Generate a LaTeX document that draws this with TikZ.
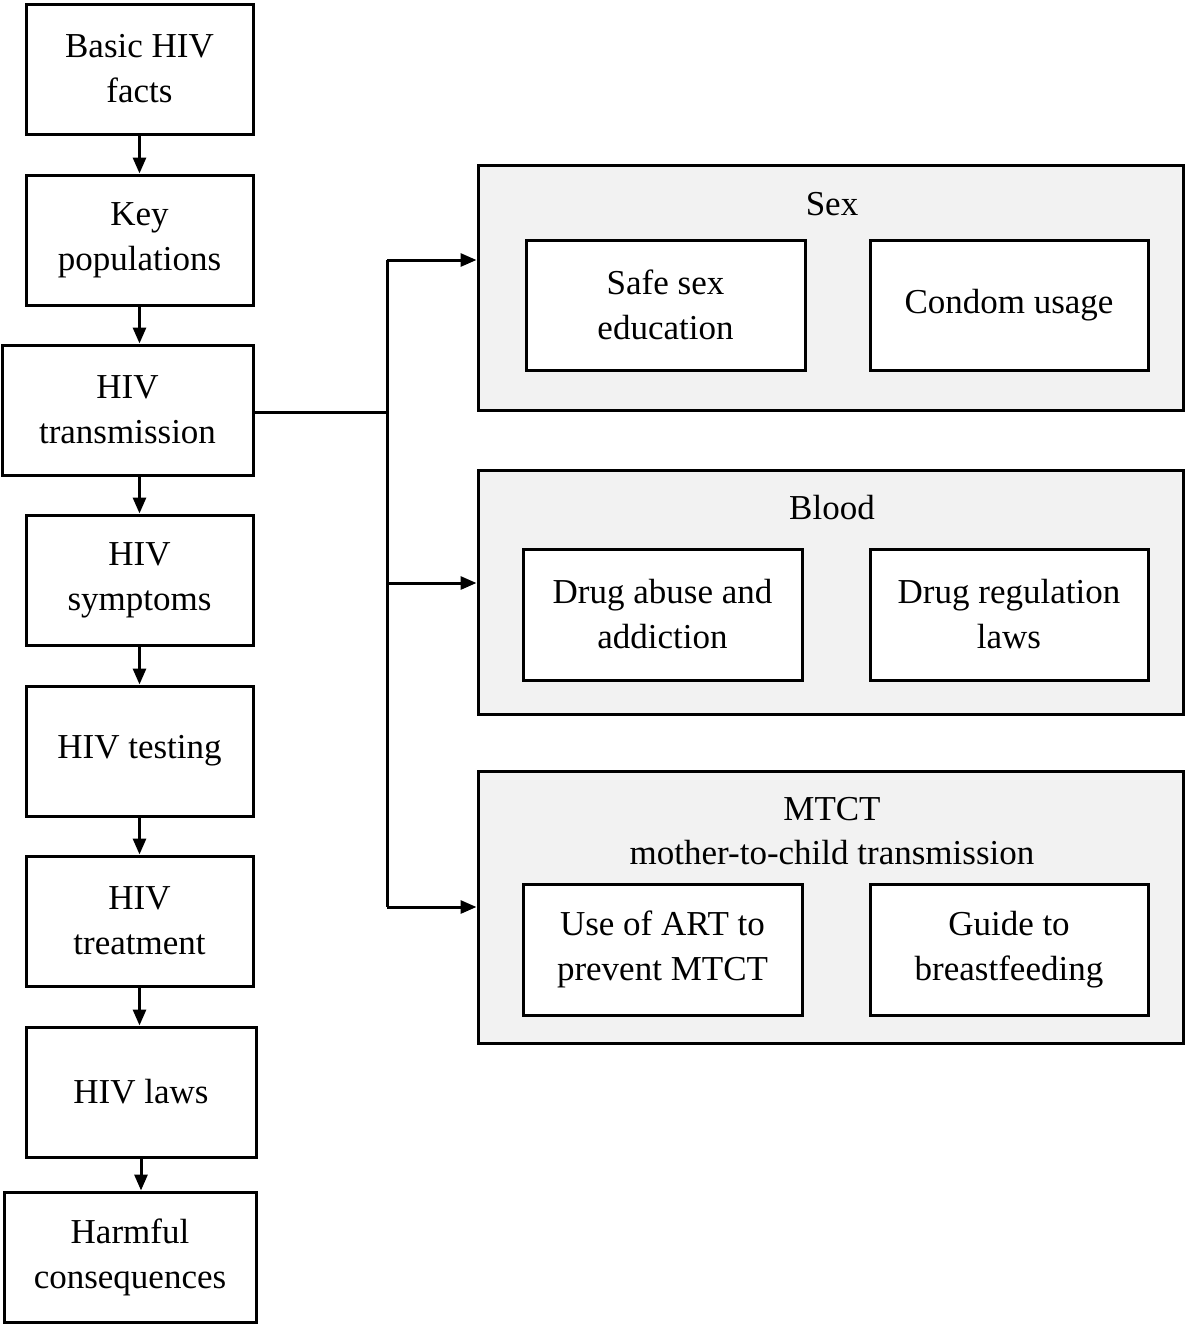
\documentclass[tikz,border=0pt]{standalone}
\usepackage{fontspec}
\setmainfont{Liberation Serif}
\usetikzlibrary{arrows.meta}
\definecolor{grp}{HTML}{F2F2F2}
\tikzset{
 bx/.style={draw, line width=1.5pt, fill=white, align=center, inner sep=0pt, font=\fontsize{17.5}{22.5}\selectfont},
 grpbox/.style={draw, line width=1.5pt, fill=grp, inner sep=0pt},
 ttl/.style={align=center, inner sep=0pt, font=\fontsize{17.5}{22}\selectfont},
 conn/.style={line width=1.5pt},
 arr/.style={conn, -{Triangle[length=8pt,width=6.5pt]}}
}
\begin{document}
\begin{tikzpicture}[x=0.5pt,y=-0.5pt]
\useasboundingbox (0,0) rectangle (1192,1324);
% left column
\node[bx, minimum width=113.5pt, minimum height=65pt] (b1) at (139.5,69) {Basic HIV\\facts};
\node[bx, minimum width=113.5pt, minimum height=65pt] (b2) at (139.5,240) {Key\\populations};
\node[bx, minimum width=125.5pt, minimum height=65pt] (b3) at (127.5,410) {HIV\\transmission};
\node[bx, minimum width=113.5pt, minimum height=65pt] (b4) at (139.5,580) {HIV\\symptoms};
\node[bx, minimum width=113.5pt, minimum height=65pt] (b5) at (139.5,751) {HIV testing};
\node[bx, minimum width=113.5pt, minimum height=65pt] (b6) at (139.5,921) {HIV\\treatment};
\node[bx, minimum width=115pt, minimum height=65pt] (b7) at (141,1092) {HIV laws};
\node[bx, minimum width=126pt, minimum height=65pt] (b8) at (130,1257) {Harmful\\consequences};
\draw[arr] (b1.south) -- (b2.north);
\draw[arr] (b2.south) -- (b2.south |- b3.north);
\draw[arr] (b4.north |- b3.south) -- (b4.north);
\draw[arr] (b4.south) -- (b5.north);
\draw[arr] (b5.south) -- (b6.north);
\draw[arr] (b6.south) -- (b6.south |- b7.north);
\draw[arr] (b7.south) -- (b7.south |- b8.north);
% groups
\node[grpbox, minimum width=352.5pt, minimum height=122.5pt] (g1) at (830.5,287.5) {};
\node[ttl] (g1t) at (832,204) {Sex};
\node[bx, minimum width=139.5pt, minimum height=65pt] (s1) at (665.5,305) {Safe sex\\education};
\node[bx, minimum width=139pt, minimum height=65pt] (s2) at (1009,305) {Condom usage};

\node[grpbox, minimum width=352.5pt, minimum height=122pt] (g2) at (830.5,592) {};
\node[ttl] (g2t) at (832,508) {Blood};
\node[bx, minimum width=139.5pt, minimum height=65.5pt] (d1) at (662.5,614.5) {Drug abuse and\\addiction};
\node[bx, minimum width=139pt, minimum height=65.5pt] (d2) at (1009,614.5) {Drug regulation\\laws};

\node[grpbox, minimum width=352.5pt, minimum height=136pt] (g3) at (830.5,907) {};
\node[ttl] (g3t) at (832,831) {MTCT\\mother-to-child transmission};
\node[bx, minimum width=139.5pt, minimum height=65.5pt] (m1) at (662.5,949.5) {Use of ART to\\prevent MTCT};
\node[bx, minimum width=139pt, minimum height=65.5pt] (m2) at (1009,949.5) {Guide to\\breastfeeding};
% connectors
\coordinate (j) at (387,412);
\coordinate (t1) at (387,260);
\coordinate (t2) at (387,583);
\coordinate (t3) at (387,907);
\draw[conn] (b3.east |- j) -- (j);
\draw[conn] (t1) -- (t3);
\draw[arr] (t1) -- (t1 -| g1.west);
\draw[arr] (t2) -- (t2 -| g2.west);
\draw[arr] (t3) -- (t3 -| g3.west);
\end{tikzpicture}
\end{document}
